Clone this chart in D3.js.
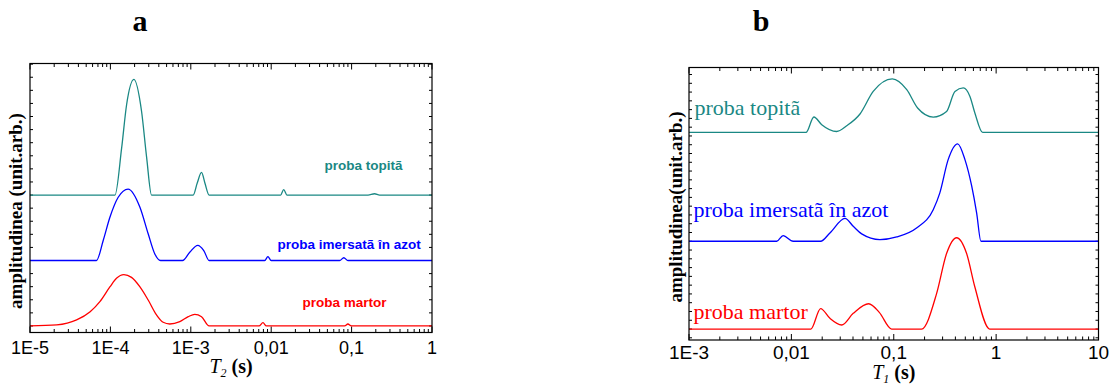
<!DOCTYPE html>
<html>
<head>
<meta charset="utf-8">
<script src="https://cdn.jsdelivr.net/npm/d3@7"></script>
<style>
  body { margin: 0; background: #fff; }
  svg { display: block; }
</style>
</head>
<body>
<div id="chart"></div>
<script>
// ---- data, [T (s), amplitude above the curve's own baseline]
let seriesNames = ["proba martor", "proba imersatã în azot", "proba topitã"];
let seriesColors = ["#ff0000", "#0000ff", "#1a8884"];

// panel a : T2 distributions
let offsetsA = [0, 5, 10];
let martorA = [
  [1e-5, 0], [2.15e-5, 0.08], [3.8e-5, 0.46], [5.6e-5, 1.09], [7.4e-5, 1.86],
  [9.9e-5, 3.0], [1.19e-4, 3.64], [1.47e-4, 3.92], [1.83e-4, 3.71], [2.32e-4, 3.0],
  [2.95e-4, 1.98], [3.75e-4, 0.84], [4.53e-4, 0.28], [5.48e-4, 0.15], [7.3e-4, 0.33],
  [9.3e-4, 0.71], [1.12e-3, 0.89], [1.36e-3, 0.71], [1.69e-3, 0],
  [7.06e-3, 0], [7.9e-3, 0.25], [8.7e-3, 0],
  [0.082, 0], [0.090, 0.15], [0.099, 0], [1, 0]
];
let imersataA = [
  [1e-5, 0], [6.7e-5, 0], [8.14e-5, 1.53], [9.86e-5, 3.3], [1.25e-4, 4.83],
  [1.66e-4, 5.46], [2.33e-4, 4.07], [2.95e-4, 2.04], [3.57e-4, 0.5], [4.2e-4, 0],
  [7.9e-4, 0], [9.7e-4, 0.63], [1.22e-3, 1.16], [1.45e-3, 0.76], [1.69e-3, 0],
  [8.3e-3, 0], [9.1e-3, 0.29], [0.010, 0],
  [0.071, 0], [0.080, 0.21], [0.090, 0], [1, 0]
];
let topitaA = [
  [1e-5, 0], [1.14e-4, 0], [1.38e-4, 3.6], [1.59e-4, 6.9], [1.96e-4, 8.83],
  [2.44e-4, 6.4], [2.82e-4, 2.9], [3.25e-4, 0],
  [1.07e-3, 0], [1.2e-3, 0.9], [1.36e-3, 1.73], [1.5e-3, 0.9], [1.69e-3, 0],
  [0.0131, 0], [0.0143, 0.42], [0.0157, 0],
  [0.16, 0], [0.193, 0.1], [0.223, 0], [1, 0]
];
let ticksA = [1e-5, 1e-4, 1e-3, 0.01, 0.1, 1];
let tickLabelsA = ["1E-5", "1E-4", "1E-3", "0,01", "0,1", "1"];

// panel b : T1 distributions
let offsetsB = [0, 10, 22.4];
let martorB = [
  [1e-3, 0], [0.0155, 0], [0.0193, 2.33], [0.0238, 1.22], [0.031, 0.46],
  [0.0402, 1.79], [0.0569, 2.88], [0.0722, 1.9], [0.0953, 0],
  [0.187, 0], [0.262, 4.03], [0.328, 8.6], [0.411, 10.4], [0.515, 8.6],
  [0.62, 4.79], [0.864, 0], [10, 0]
];
let imersataB = [
  [1e-3, 0], [7.2e-3, 0], [8.3e-3, 0.64], [0.0104, 0], [0.0193, 0],
  [0.0238, 0.95], [0.0334, 2.61], [0.0402, 1.71], [0.0486, 0.84], [0.0733, 0.19],
  [0.107, 0.5], [0.167, 1.52], [0.243, 3.6], [0.282, 5.52], [0.34, 9.3],
  [0.421, 11.1], [0.496, 9.3], [0.577, 6.3], [0.645, 3.24], [0.711, 0], [10, 0]
];
let topitaB = [
  [1e-3, 0], [0.0139, 0], [0.0166, 1.76], [0.0198, 0.88], [0.0277, 0.11],
  [0.0347, 0.76], [0.0468, 2.1], [0.063, 4.67], [0.0968, 6.1], [0.134, 4.87],
  [0.171, 2.78], [0.243, 1.75], [0.328, 2.39], [0.396, 4.67], [0.478, 5.07],
  [0.555, 4.1], [0.62, 2.22], [0.738, 0], [10, 0]
];
let ticksB = [1e-3, 0.01, 0.1, 1, 10];
let tickLabelsB = ["1E-3", "0,01", "0,1", "1", "10"];

let width = 1110, height = 385;

let svg = d3.select("#chart").append("svg")
    .attr("width", width)
    .attr("height", height);

function drawPanel(p) {
  let x = d3.scaleLog().domain(p.xDomain).range([p.left, p.right]);
  let y = d3.scaleLinear().domain(p.yDomain).range([p.bottom, p.top]);
  let g = svg.append("g");

  // minor + major ticks on the x axis (bottom and top, inside)
  let allTicks = [];
  let lo = Math.round(Math.log10(p.xDomain[0])), hi = Math.round(Math.log10(p.xDomain[1]));
  for (let e = lo; e < hi; e++) {
    for (let m = 1; m < 10; m++) allTicks.push({v: m * Math.pow(10, e), major: m == 1});
  }
  allTicks.push({v: Math.pow(10, hi), major: true});

  g.selectAll(".xt").data(allTicks).enter().append("line")
      .attr("x1", d => x(d.v)).attr("x2", d => x(d.v))
      .attr("y1", p.bottom).attr("y2", d => p.bottom - (d.major ? 6 : 3.5))
      .attr("stroke", "#000").attr("stroke-width", 1);
  g.selectAll(".xtt").data(allTicks).enter().append("line")
      .attr("x1", d => x(d.v)).attr("x2", d => x(d.v))
      .attr("y1", p.top).attr("y2", d => p.top + (d.major ? 6 : 3.5))
      .attr("stroke", "#000").attr("stroke-width", 1);

  // y ticks, left and right, inside
  let yt = d3.range(Math.ceil(p.yDomain[0]), Math.floor(p.yDomain[1]) + 1);
  g.selectAll(".yl").data(yt).enter().append("line")
      .attr("x1", p.left).attr("x2", p.left + 3)
      .attr("y1", d => y(d)).attr("y2", d => y(d))
      .attr("stroke", "#000");
  g.selectAll(".yr").data(yt).enter().append("line")
      .attr("x1", p.right).attr("x2", p.right - 3)
      .attr("y1", d => y(d)).attr("y2", d => y(d))
      .attr("stroke", "#000");

  // curves
  let line = d3.line()
      .x(d => x(d[0]))
      .y(d => y(d[1]))
      .curve(d3.curveMonotoneX);

  p.series.forEach(function(s, i) {
    g.append("path")
        .datum(s.map(d => [d[0], d[1] + p.offsets[i]]))
        .attr("d", line)
        .attr("fill", "none")
        .attr("stroke", seriesColors[i])
        .attr("stroke-width", 1.3);
  });

  // frame
  g.append("rect")
      .attr("x", p.left).attr("y", p.top)
      .attr("width", p.right - p.left).attr("height", p.bottom - p.top)
      .attr("fill", "none").attr("stroke", "#000").attr("stroke-width", 1.2);

  // tick labels
  g.selectAll(".tl").data(p.ticks).enter().append("text")
      .attr("x", d => x(d))
      .attr("y", p.tickLabelY)
      .attr("text-anchor", "middle")
      .style("font-family", "'Liberation Sans', Arial, sans-serif")
      .style("font-size", p.tickFont + "px")
      .text((d, i) => p.tickLabels[i]);

  // x axis title
  let t = g.append("text")
      .attr("x", (p.left + p.right) / 2)
      .attr("y", p.xTitleY)
      .attr("text-anchor", "middle")
      .style("font-family", "'Liberation Serif', 'Times New Roman', serif")
      .style("font-size", "20px");
  t.append("tspan").style("font-style", "italic").text("T");
  t.append("tspan").attr("dy", 4).style("font-size", "12px").style("font-style", "italic").text(p.sub);
  t.append("tspan").attr("dy", -4).style("font-weight", "bold").text(" (s)");

  // y axis title
  g.append("text")
      .attr("transform", translate(p.yTitleX, p.yTitleCY) + " rotate(-90)")
      .attr("text-anchor", "middle")
      .attr("dy", "0.35em")
      .style("font-family", "'Liberation Serif', 'Times New Roman', serif")
      .style("font-weight", "bold")
      .style("font-size", "19px")
      .text(p.yTitle);

  // panel letter
  g.append("text")
      .attr("x", p.letterX).attr("y", 31)
      .attr("text-anchor", "middle")
      .style("font-family", "'Liberation Serif', 'Times New Roman', serif")
      .style("font-weight", "bold")
      .style("font-size", "30px")
      .text(p.letter);

  // series labels
  p.labels.forEach(function(l, i) {
    g.append("text")
        .attr("x", l[0]).attr("y", l[1])
        .attr("fill", seriesColors[i])
        .style("font-family", p.labelFamily)
        .style("font-weight", p.labelWeight)
        .style("font-size", p.labelFont + "px")
        .text(seriesNames[i]);
  });
}

drawPanel({
  left: 30, right: 432, top: 63.5, bottom: 332.5,
  xDomain: [1e-5, 1], yDomain: [-0.5, 20.05],
  series: [martorA, imersataA, topitaA], offsets: offsetsA,
  ticks: ticksA, tickLabels: tickLabelsA, tickLabelY: 353.5, tickFont: 18,
  xTitleY: 373, sub: "2",
  yTitle: "amplitudinea (unit.arb.)", yTitleX: 15, yTitleCY: 211,
  letter: "a", letterX: 140,
  labels: [[302.5, 306.5], [277.5, 248.5], [324.5, 169.5]],
  labelFamily: "'Liberation Sans', Arial, sans-serif", labelWeight: "bold", labelFont: 13.5
});

drawPanel({
  left: 689, right: 1098.5, top: 67.5, bottom: 340,
  xDomain: [1e-3, 10], yDomain: [-1.25, 29.8],
  series: [martorB, imersataB, topitaB], offsets: offsetsB,
  ticks: ticksB, tickLabels: tickLabelsB, tickLabelY: 358.5, tickFont: 19,
  xTitleY: 379, sub: "1",
  yTitle: "amplitudinea(unit.arb.)", yTitleX: 675, yTitleCY: 207,
  letter: "b", letterX: 761,
  labels: [[693.5, 318.5], [693.5, 216.5], [694.5, 115]],
  labelFamily: "'Liberation Serif', 'Times New Roman', serif", labelWeight: "normal", labelFont: 22
});

function translate(x, y=0) {
  return "translate({x}, {y})"
          .replace("{x}", x)
          .replace("{y}", y);
}
</script>
</body>
</html>
